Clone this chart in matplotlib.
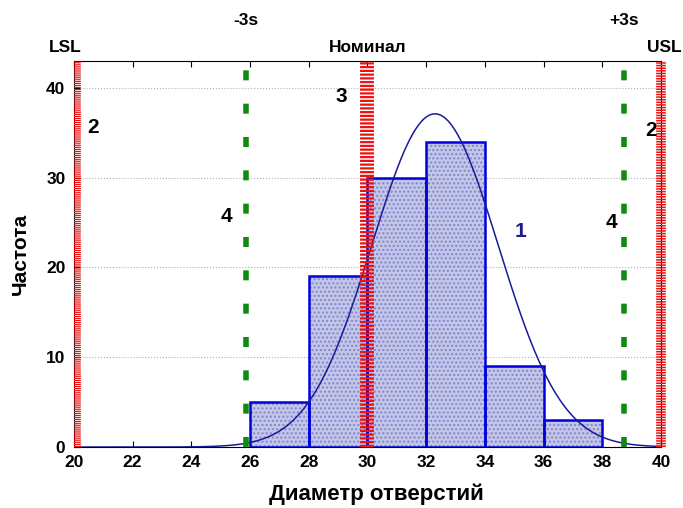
import matplotlib
matplotlib.use("Agg")
import matplotlib.pyplot as plt
import numpy as np

plt.rcParams['font.family'] = ['Liberation Sans', 'DejaVu Sans']
plt.rcParams['font.weight'] = 'bold'

# histogram of hole diameters
bin_left  = [26, 28, 30, 32, 34, 36]
counts    = [5, 19, 30, 34, 9, 3]
bin_width = 2

# fitted normal curve
mean  = 32.3
sigma = 2.15
n_total = sum(counts)

# specification lines
lsl     = 20
nominal = 30
usl     = 40
minus3s = mean - 3 * sigma
plus3s  = mean + 3 * sigma

fig = plt.figure(figsize=(6.83, 5.08), dpi=100)
ax = fig.add_axes([0.108, 0.120, 0.860, 0.760])

# bars: stippled fill, then blue outline
ax.bar(bin_left, counts, width=bin_width, align="edge",
       color="#c4c6e8", edgecolor="#7f86cf", linewidth=0, hatch="....",
       zorder=2)
ax.bar(bin_left, counts, width=bin_width, align="edge",
       fill=False, edgecolor="#0000dd", linewidth=1.8, zorder=3)

xs = np.linspace(20, 40, 400)
ys = n_total * bin_width / (sigma * np.sqrt(2 * np.pi)) * np.exp(-0.5 * ((xs - mean) / sigma) ** 2)
ax.plot(xs, ys, color="#1a1a99", linewidth=1.1, zorder=4)

red_style = dict(color="#ee1111", linestyle=(0, (0.16, 0.11)), zorder=5)
ax.axvline(lsl + 0.12, linewidth=5.5, **red_style)
ax.axvline(nominal, linewidth=10, **red_style)
ax.axvline(usl, linewidth=7, clip_on=False, **red_style)
for xv in [minus3s, plus3s]:
    ax.axvline(xv, color="#108a10", linewidth=4, linestyle=(0, (1.8, 4.2)), zorder=5)

ax.set_xlim(20, 40)
ax.set_ylim(0, 43)
ax.set_xticks(range(20, 41, 2))
ax.set_yticks([0, 10, 20, 30, 40])
ax.tick_params(direction="in", top=True, labelsize=12.5, length=4, pad=6)
ax.yaxis.grid(True, linestyle=":", color="#b0b0b0", linewidth=0.8)
ax.set_axisbelow(True)

ax.set_xlabel("Диаметр отверстий", fontsize=16, fontweight="bold", labelpad=10)
ax.xaxis.set_label_coords(0.515, -0.095)
ax.set_ylabel("Частота", fontsize=15, fontweight="bold", labelpad=12)

# labels above the plot
trans = ax.get_xaxis_transform()
top_kw = dict(transform=trans, ha="center", va="bottom", fontsize=12.5, fontweight="bold")
ax.text(lsl - 0.3, 1.015, "LSL", **top_kw)
ax.text(nominal, 1.015, "Номинал", **top_kw)
ax.text(usl + 0.1, 1.015, "USL", **top_kw)
ax.text(minus3s, 1.085, "-3s", **top_kw)
ax.text(plus3s, 1.085, "+3s", **top_kw)

# numbered callouts
ax.text(20.65, 35.6, "2", ha="center", va="center", fontsize=15, fontweight="bold")
ax.text(39.65, 35.3, "2", ha="center", va="center", fontsize=15, fontweight="bold")
ax.text(29.1, 39.0, "3", ha="center", va="center", fontsize=15, fontweight="bold")
ax.text(25.2, 25.7, "4", ha="center", va="center", fontsize=15, fontweight="bold")
ax.text(38.3, 25.0, "4", ha="center", va="center", fontsize=15, fontweight="bold")
ax.text(35.2, 24.0, "1", ha="center", va="center", fontsize=15, fontweight="bold", color="#1a1a99")

fig.savefig("out.png", dpi=100)
